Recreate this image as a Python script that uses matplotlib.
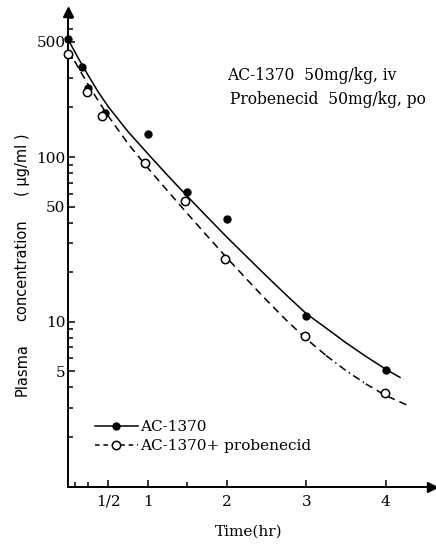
import matplotlib
matplotlib.use("Agg")
import matplotlib.pyplot as plt
from matplotlib.ticker import FixedLocator, NullFormatter

# ---- data ----
t_ac = [0.0, 0.17, 0.25, 0.46, 1.0, 1.5, 2.0, 3.0, 4.0]
c_ac = [520, 350, 262, 186, 139, 61.5, 42, 10.9, 5.1]
t_pro = [0.0, 0.23, 0.42, 0.97, 1.47, 1.97, 2.98, 3.99]
c_pro = [420, 249, 178, 92, 54, 24, 8.2, 3.67]

# fitted curves
fit_t_ac = [0.0, 0.125, 0.25, 0.375, 0.5, 0.75, 1.0, 1.25, 1.5, 1.75, 2.0, 2.25,
            2.5, 2.75, 3.0, 3.25, 3.5, 3.75, 4.0, 4.19]
fit_c_ac = [514, 398, 313, 249, 203, 143, 105, 77.5, 57.8, 43.3, 32.6, 24.8,
            18.9, 14.5, 11.2, 9.16, 7.46, 6.17, 5.16, 4.57]
fit_t_pro = [0.0, 0.125, 0.25, 0.375, 0.5, 0.75, 1.0, 1.25, 1.5, 1.75, 2.0, 2.25,
             2.5, 2.75, 3.0, 3.25, 3.5, 3.75, 4.0, 4.29]
fit_c_pro = [447, 349, 275, 220, 178, 121, 86.1, 62.4, 45.4, 33.2, 24.4, 18.1,
             13.5, 10.2, 7.87, 6.24, 5.05, 4.20, 3.57, 3.09]

x_major = [0.5, 1, 2, 3, 4]
x_major_labels = ["1/2", "1", "2", "3", "4"]
x_minor = [1 / 12, 0.25, 1.5]
y_major = [5, 10, 50, 100, 500]
y_major_labels = ["5", "10", "50", "100", "500"]

label_ac = "AC-1370"
label_pro = "AC-1370+ probenecid"
note_lines = ["AC-1370  50mg/kg, iv", "Probenecid  50mg/kg, po"]

# ---- figure ----
W, H = 436, 546
fig = plt.figure(figsize=(W / 100, H / 100), dpi=100)
ax = fig.add_axes([68.4 / W, 1 - 486.5 / H, (432 - 68.4) / W, (486.5 - 12) / H])

serif = "DejaVu Serif"
lw = 1.1

ax.set_yscale("log")
ax.set_xlim(0, 4.585)
ax.set_ylim(1, 760)

# fitted curves
ax.plot(fit_t_ac, fit_c_ac, color="black", lw=lw, solid_capstyle="butt", zorder=2)
dash = (0, (5, 3.3))
i_a = fit_t_pro.index(3.25)
i_b = fit_t_pro.index(3.75)
ax.plot(fit_t_pro[:i_a + 1], fit_c_pro[:i_a + 1], color="black", lw=lw, linestyle=dash, zorder=2)
ax.plot(fit_t_pro[i_a:i_b + 1], fit_c_pro[i_a:i_b + 1], color="black", lw=lw,
        linestyle=(0, (5, 2.5, 1, 2.5)), zorder=2)
ax.plot(fit_t_pro[i_b:], fit_c_pro[i_b:], color="black", lw=lw, linestyle=dash, zorder=2)

# data points
ax.plot(t_ac, c_ac, linestyle="none", marker="o", ms=5, color="black", zorder=4, clip_on=False)
ax.plot(t_pro, c_pro, linestyle="none", marker="o", ms=6, mfc="white", mec="black",
        mew=1.1, zorder=5, clip_on=False)

# legend handles
h1, = ax.plot([], [], color="black", lw=lw, marker="o", ms=5)
h2, = ax.plot([], [], color="black", lw=lw, linestyle=(0, (3, 2.5)), marker="o", ms=6,
              mfc="white", mec="black", mew=1.1)
leg = fig.legend([h1, h2], [label_ac, label_pro], loc="center left",
                 bbox_to_anchor=(95 / W, 1 - 436.5 / H), frameon=False,
                 prop={"family": serif, "size": 11}, handlelength=2.8,
                 handletextpad=0.12, labelspacing=0.34, borderpad=0, borderaxespad=0,
                 numpoints=1)

# spines
for s in ["top", "right"]:
    ax.spines[s].set_visible(False)
for s in ["left", "bottom"]:
    ax.spines[s].set_linewidth(1.4)

# arrows
ax.plot([0], [1], marker="^", ms=7, color="black", transform=ax.transAxes, clip_on=False)
ax.plot([1], [0], marker=">", ms=7, color="black", transform=ax.transAxes, clip_on=False)

# ticks
ax.xaxis.set_major_locator(FixedLocator(x_major))
ax.set_xticklabels(x_major_labels, family=serif, fontsize=11)
ax.xaxis.set_minor_locator(FixedLocator(x_minor))
ax.yaxis.set_major_locator(FixedLocator(y_major))
ax.set_yticklabels(y_major_labels, family=serif, fontsize=11)
ax.yaxis.set_minor_formatter(NullFormatter())
ax.tick_params(axis="both", which="major", direction="in", length=5, width=1.1)
ax.tick_params(axis="both", which="minor", direction="in", length=3.5, width=1.1)
ax.tick_params(axis="x", which="major", pad=6)
ax.tick_params(axis="y", which="major", pad=2)

# axis labels
fig.text(249 / W, 1 - 532 / H, "Time(hr)", family=serif, fontsize=11,
         ha="center", va="center")
fig.text(22 / W, 1 - 370 / H, "Plasma", family="DejaVu Sans", fontsize=10.5,
         rotation=90, ha="center", va="center")
fig.text(22 / W, 1 - 270 / H, "concentration", family="DejaVu Sans", fontsize=10.5,
         rotation=90, ha="center", va="center")
fig.text(22 / W, 1 - 165 / H, "( μg/ml )", family="DejaVu Sans", fontsize=10.5,
         rotation=90, ha="center", va="center")

# note
fig.text(227 / W, 1 - 76 / H, note_lines[0], family=serif, fontsize=11.2, ha="left", va="center")
fig.text(230 / W, 1 - 99 / H, note_lines[1], family=serif, fontsize=11.2, ha="left", va="center")

fig.savefig("out.png", dpi=100)
